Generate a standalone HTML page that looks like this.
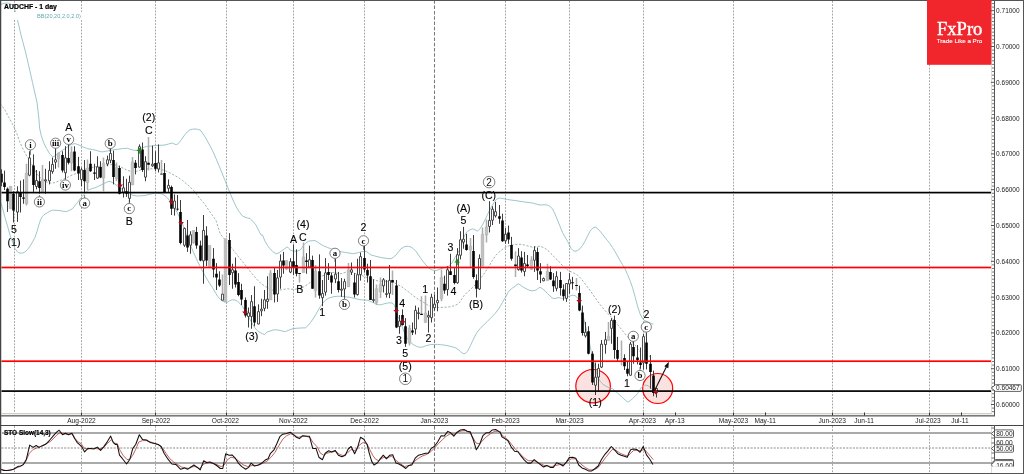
<!DOCTYPE html>
<html lang="en"><head><meta charset="utf-8"><title>AUDCHF - 1 day</title>
<style>
html,body{margin:0;padding:0;background:#fff;}
body{width:1024px;height:474px;overflow:hidden;font-family:"Liberation Sans",sans-serif;}
svg{display:block;}
text{font-family:"Liberation Sans",sans-serif;}
.grid{stroke:#a4a4a4;stroke-width:1;stroke-dasharray:1.8 1.37;}
.gridy{stroke:#7a7a7a;stroke-width:1.05;stroke-dasharray:3.5 1.8;}
.band{fill:none;stroke:#86b8bc;stroke-width:0.8;stroke-linejoin:round;}
.mid{fill:none;stroke:#6f9092;stroke-width:0.7;stroke-dasharray:2.2 1.6;}
.yl2{font-size:6.6px;fill:#1a1a1a;}
.wc{font-size:10px;fill:#111;}
.xl{font-size:6.6px;fill:#1a1a1a;}
.yl{font-size:6.5px;fill:#222;}
.title{font-size:6.9px;font-weight:bold;fill:#000;stroke:#000;stroke-width:0.2px;}
.bb{font-size:5.6px;fill:#6aa9ae;}
.logo{font-family:"Liberation Serif",serif;font-size:18.6px;fill:#fff;stroke:#fff;stroke-width:0.4px;}
.tag{font-size:6.2px;fill:#fff;stroke:#fff;stroke-width:0.12px;}
.wl{font-size:10.6px;fill:#000;stroke:#000;stroke-width:0.1px;}
.ws{font-family:"Liberation Serif",serif;font-size:8.8px;font-weight:bold;fill:#000;}
.sto{font-size:6.45px;font-weight:bold;fill:#000;stroke:#000;stroke-width:0.2px;}
</style></head>
<body>
<svg width="1024" height="474" viewBox="0 0 1024 474">
<rect x="0" y="0" width="1024" height="474" fill="#fff"/>
<line x1="14.5" y1="1" x2="14.5" y2="413" class="grid"/>
<line x1="14.5" y1="426" x2="14.5" y2="473" class="grid"/>
<line x1="81.5" y1="1" x2="81.5" y2="413" class="grid"/>
<line x1="81.5" y1="426" x2="81.5" y2="473" class="grid"/>
<line x1="155.5" y1="1" x2="155.5" y2="413" class="grid"/>
<line x1="155.5" y1="426" x2="155.5" y2="473" class="grid"/>
<line x1="226.5" y1="1" x2="226.5" y2="413" class="grid"/>
<line x1="226.5" y1="426" x2="226.5" y2="473" class="grid"/>
<line x1="293.5" y1="1" x2="293.5" y2="413" class="grid"/>
<line x1="293.5" y1="426" x2="293.5" y2="473" class="grid"/>
<line x1="364.5" y1="1" x2="364.5" y2="413" class="grid"/>
<line x1="364.5" y1="426" x2="364.5" y2="473" class="grid"/>
<line x1="434.5" y1="0.3" x2="434.5" y2="413" class="gridy"/>
<line x1="434.5" y1="426" x2="434.5" y2="473" class="gridy"/>
<line x1="505.5" y1="1" x2="505.5" y2="413" class="grid"/>
<line x1="505.5" y1="426" x2="505.5" y2="473" class="grid"/>
<line x1="569.5" y1="1" x2="569.5" y2="413" class="grid"/>
<line x1="569.5" y1="426" x2="569.5" y2="473" class="grid"/>
<line x1="643.5" y1="1" x2="643.5" y2="413" class="grid"/>
<line x1="643.5" y1="426" x2="643.5" y2="473" class="grid"/>
<line x1="733.5" y1="1" x2="733.5" y2="413" class="grid"/>
<line x1="733.5" y1="426" x2="733.5" y2="473" class="grid"/>
<line x1="832.5" y1="1" x2="832.5" y2="413" class="grid"/>
<line x1="832.5" y1="426" x2="832.5" y2="473" class="grid"/>
<line x1="929.5" y1="1" x2="929.5" y2="413" class="grid"/>
<line x1="929.5" y1="426" x2="929.5" y2="473" class="grid"/>
<ellipse cx="593.1" cy="386.2" rx="17.3" ry="16.7" fill="#fce1e1" stroke="#f00" stroke-width="1.2"/>
<circle cx="657.7" cy="388.5" r="15" fill="#fce1e1" stroke="#f00" stroke-width="1.2"/>
<polyline points="0.0,4.5 4.0,3.3 8.0,3.0 12.0,4.8 14.0,7.5 15.5,12.0 17.5,20.0 21.0,35.0 25.0,50.0 29.0,67.0 32.5,82.5 37.0,102.5 38.8,117.5 39.6,128.0 41.2,135.5 43.8,143.0 46.5,148.5 49.5,153.5 52.5,156.8 55.0,156.0 58.8,153.0 62.0,150.5 65.0,148.8 67.5,146.8 71.2,144.4 75.0,143.6 78.0,144.6 82.5,146.7 87.5,148.7 92.5,149.5 96.0,150.2 100.0,151.6 102.5,151.8 106.2,151.2 112.5,150.0 117.0,149.4 122.5,148.5 127.5,148.3 130.0,149.2 134.0,150.3 137.5,150.5 141.0,148.6 145.0,146.8 150.0,146.2 155.0,145.5 160.0,145.3 165.0,145.0 168.5,144.0 172.5,143.0 175.0,144.4 177.5,144.3 180.0,141.5 182.5,138.0 185.0,134.5 187.5,131.7 190.0,129.8 192.5,129.2 196.0,129.0 198.5,129.6 200.0,129.8 202.5,133.0 205.0,136.8 208.5,143.0 212.5,150.5 216.0,158.5 220.0,168.0 225.0,180.5 230.0,193.0 233.0,200.0 236.2,206.8 239.0,211.5 242.5,216.0 245.0,217.2 247.5,218.0 250.0,218.5 252.5,221.0 256.0,225.0 258.5,230.0 261.0,235.0 262.5,235.0 265.0,241.2 267.5,245.5 270.0,248.8 273.0,251.8 276.2,253.8 279.0,252.8 281.2,251.2 284.5,248.8 287.5,246.9 289.0,248.6 290.0,250.0 292.5,250.8 295.0,251.2 297.5,251.0 300.0,250.0 302.0,247.8 303.8,245.0 306.0,242.8 308.8,241.2 312.0,240.7 315.0,240.6 317.5,242.0 320.0,243.8 323.5,245.8 327.5,247.5 331.0,248.8 335.0,250.0 338.5,251.2 342.0,252.0 346.0,252.5 350.0,253.2 353.5,253.7 356.0,253.2 358.5,252.5 362.0,251.6 366.0,251.3 368.5,253.0 371.0,255.0 376.0,256.3 381.0,257.5 386.0,258.3 391.0,258.7 393.5,257.2 396.0,255.0 398.5,251.8 401.0,248.8 403.5,247.2 406.0,246.3 408.5,246.4 411.0,247.0 413.5,248.8 416.0,251.3 418.5,255.0 421.0,258.7 423.5,262.0 426.0,265.0 428.5,267.5 431.0,269.5 433.5,270.3 436.0,270.5 438.5,269.8 441.0,268.7 444.5,267.5 448.5,266.2 452.0,263.0 455.0,257.5 457.5,253.5 460.0,249.0 462.0,243.0 463.8,237.5 465.5,233.8 467.5,231.3 470.0,229.8 472.5,228.8 475.0,229.8 477.5,231.2 480.0,228.7 482.5,225.0 485.0,220.0 487.5,214.5 490.0,209.5 492.5,205.0 494.5,201.8 496.2,199.5 498.0,198.4 500.0,198.0 503.0,198.6 507.5,199.5 511.0,200.0 515.0,200.5 520.0,201.3 525.0,202.0 529.0,202.6 532.5,203.0 536.0,204.0 540.0,205.0 544.0,204.8 547.5,205.0 550.0,206.5 552.5,208.8 555.0,214.0 557.5,220.0 560.0,226.3 562.5,232.5 565.0,237.0 567.5,241.2 569.5,245.0 571.2,248.7 573.0,250.5 575.0,251.3 577.5,250.6 580.0,248.7 582.5,245.5 585.0,241.2 587.5,236.2 590.0,231.2 592.0,228.8 593.8,227.5 595.0,227.2 596.2,227.5 598.0,229.0 600.0,231.2 602.5,234.2 605.0,237.5 607.5,240.6 610.0,243.7 612.5,247.5 615.0,251.5 617.5,256.0 620.0,260.5 622.5,264.7 625.0,268.8 627.5,274.5 630.0,280.5 632.5,287.5 635.0,296.5 637.5,306.0 640.0,313.7 642.0,317.8 644.0,320.3 647.5,321.8 651.2,323.5 653.5,324.2" class="band"/>
<polyline points="0.0,200.5 2.5,208.0 5.0,217.5 7.5,226.0 10.0,235.0 12.5,242.0 15.0,248.5 17.5,251.8 20.0,253.2 22.5,253.0 25.0,252.0 27.5,249.5 30.0,246.2 32.5,242.0 35.0,237.5 37.0,231.5 38.8,225.0 40.5,220.0 42.5,216.2 45.0,214.0 47.5,212.6 50.0,211.2 52.5,210.2 56.0,210.3 60.0,210.7 63.0,211.2 66.2,211.6 69.5,210.3 72.5,208.7 75.0,205.5 77.5,202.5 80.0,199.0 82.5,196.0 85.0,193.3 87.5,190.8 90.0,189.3 95.0,187.8 100.0,185.5 103.5,183.7 107.5,181.8 110.0,181.4 112.5,182.5 115.0,184.2 118.5,186.8 122.5,189.3 126.0,191.8 130.0,194.2 134.0,195.5 137.5,196.0 141.0,195.8 145.0,195.5 150.0,194.2 155.0,193.0 159.0,193.3 162.5,194.2 165.0,195.8 167.5,198.0 170.0,201.0 172.5,205.0 175.0,208.8 177.5,213.0 180.0,218.5 182.5,224.0 185.0,231.0 187.5,237.5 190.0,244.0 192.5,250.0 195.0,255.8 197.5,261.2 200.0,266.3 202.5,271.2 205.0,275.5 207.5,280.0 210.0,283.8 212.5,287.5 215.0,292.0 217.5,296.2 220.0,299.0 222.5,301.2 225.0,302.0 227.5,302.3 230.0,300.5 232.5,299.8 235.0,300.0 237.5,301.3 240.0,303.5 242.5,306.5 245.0,310.5 247.5,315.0 250.0,319.5 252.5,324.0 255.0,328.0 257.5,330.8 260.0,332.5 262.5,333.8 264.5,334.4 267.0,332.0 270.0,331.0 273.8,329.8 278.0,330.0 282.0,331.0 285.5,331.6 289.0,330.0 293.0,328.7 297.0,328.2 301.0,328.0 305.5,327.8 308.0,325.5 310.5,322.5 313.0,319.0 315.5,315.0 318.0,310.5 320.5,306.3 323.0,303.0 325.5,300.0 329.0,298.0 333.0,296.8 337.0,296.3 341.0,296.2 345.0,296.8 350.0,297.3 355.0,298.5 359.0,299.5 363.0,300.0 367.5,300.3 370.0,301.2 373.0,302.5 377.5,304.6 380.5,304.8 383.5,304.0 387.5,303.0 391.0,302.8 393.0,303.5 394.5,305.5 396.2,311.0 398.0,316.5 400.0,321.3 402.0,326.5 403.8,331.2 405.5,335.0 407.5,338.7 409.5,341.2 411.2,343.0 414.0,345.0 416.2,346.2 418.5,347.0 421.2,347.4 424.0,346.5 426.2,345.6 429.0,345.0 431.2,344.5 434.0,344.4 437.5,344.4 440.5,344.7 443.8,345.0 447.0,345.6 450.0,346.3 452.5,346.9 455.0,347.6 457.0,348.7 458.8,350.0 460.5,351.7 462.5,353.2 464.0,353.8 465.5,353.3 467.5,351.2 469.0,348.5 470.5,345.5 472.5,341.2 474.5,337.0 476.2,333.7 478.0,331.0 480.0,328.7 482.5,326.0 485.0,323.7 487.5,321.3 490.0,318.7 492.5,316.2 495.0,313.7 497.0,311.0 498.8,308.7 500.5,305.8 502.5,302.5 504.5,298.8 506.2,296.2 508.0,292.5 510.0,290.0 512.5,288.0 515.0,286.3 517.0,284.6 518.8,283.8 521.0,285.5 523.8,287.5 527.0,289.2 530.0,290.5 533.0,290.8 536.2,290.0 538.5,288.2 540.0,287.3 542.5,288.8 545.0,290.8 547.5,293.5 550.0,296.0 552.0,297.8 553.8,298.6 556.0,298.2 558.8,297.6 561.5,298.3 563.8,298.2 566.2,297.8 568.5,296.5 571.2,295.6 573.0,295.2 575.0,295.6 576.5,296.8 578.0,298.7 579.0,301.5 580.0,305.0 581.0,308.7 581.9,312.5 582.8,315.5 583.8,318.7 584.7,322.5 585.6,326.2 586.5,330.0 587.5,333.7 588.5,338.0 589.4,342.5 590.3,347.0 591.2,351.5 591.9,355.0 592.8,358.7 593.8,362.5 594.7,366.3 595.6,370.0 596.8,373.8 598.0,377.5 599.5,380.3 601.2,382.5 603.0,384.3 605.0,385.6 607.0,386.7 608.8,387.5 610.5,388.2 612.5,388.8 615.0,390.8 617.5,393.0 620.0,395.3 622.5,397.5 625.0,399.8 627.5,401.9 629.0,401.6 630.5,400.5 632.5,398.7 635.0,396.3 637.5,393.7 639.5,390.5 641.2,387.5 643.0,385.8 645.0,385.0 647.0,385.4 648.8,386.2 650.5,387.8 651.5,389.0" class="band"/>
<polyline points="0.0,103.7 2.5,106.5 5.0,110.0 7.0,114.0 8.8,117.5 10.0,119.5 12.5,124.0 15.0,129.0 17.5,135.5 20.0,142.5 22.5,148.0 25.0,153.0 27.0,156.5 28.8,158.5 31.0,162.5 34.0,168.5 37.5,174.5 40.5,178.0 43.8,180.6 47.5,182.3 51.2,183.2 55.0,182.6 60.0,180.5 65.0,178.5 70.0,176.0 74.0,174.3 77.5,173.0 81.0,171.3 85.0,169.3 90.0,168.0 95.0,166.8 100.0,166.3 105.0,165.6 109.0,164.8 112.5,164.5 116.0,165.3 120.0,166.8 124.0,168.6 127.5,170.5 131.0,171.3 135.0,171.7 139.0,170.5 142.5,169.3 146.0,169.0 150.0,168.7 155.0,169.0 160.0,169.3 164.0,170.3 167.5,171.7 171.0,173.5 175.0,175.6 179.0,178.0 182.5,180.5 186.0,183.5 190.0,186.8 194.0,191.0 197.5,195.4 201.0,199.8 205.0,204.5 208.5,209.8 212.5,215.5 216.0,220.5 220.0,233.0 221.2,235.0 226.0,241.0 231.2,247.5 236.0,253.5 241.2,260.0 246.0,266.0 250.0,271.2 254.0,276.0 257.5,280.0 261.0,283.5 265.0,286.2 269.0,288.5 272.5,290.0 276.0,290.2 280.0,290.0 284.0,289.3 287.5,288.8 291.0,289.2 295.0,289.4 299.0,288.5 303.8,286.9 307.0,284.8 310.0,282.5 314.0,280.0 317.5,278.0 321.0,276.3 325.0,275.0 330.0,272.4 333.5,272.5 337.0,273.2 341.0,273.7 345.0,272.5 348.5,271.4 352.0,272.3 356.0,273.7 360.0,275.0 363.5,276.2 367.0,277.5 371.0,278.7 375.0,280.0 378.5,281.2 382.0,281.3 386.0,281.3 390.0,281.8 393.5,282.5 397.0,284.2 401.0,286.3 403.5,288.0 406.0,290.0 408.5,291.8 411.0,293.8 413.5,296.0 416.0,297.6 418.5,299.5 421.0,301.0 424.0,302.5 427.5,305.0 431.0,306.5 434.0,307.4 437.0,307.6 440.0,307.5 443.5,307.2 446.2,307.2 449.5,306.8 452.5,306.2 455.0,305.4 457.5,304.2 459.5,302.5 461.2,300.0 463.0,297.0 465.0,294.5 467.5,292.0 470.0,290.0 473.5,286.5 477.5,282.5 481.0,277.8 485.0,272.5 488.5,267.0 492.5,260.2 496.0,255.2 500.0,251.2 503.5,248.5 507.5,246.3 511.0,245.2 515.0,244.5 518.5,244.2 522.5,244.5 526.2,245.6 530.0,246.5 532.5,247.3 536.0,246.8 538.8,246.3 541.0,246.6 543.8,247.6 546.0,249.0 548.8,251.3 551.0,253.6 553.8,256.3 556.0,258.8 558.8,261.3 561.0,264.0 563.8,266.8 566.0,268.8 568.8,270.6 571.0,271.8 573.8,273.0 575.5,274.0 577.5,275.2 579.5,277.0 581.2,278.8 583.0,281.2 585.0,283.8 587.0,286.5 588.8,288.8 590.0,290.3 592.5,294.0 595.0,297.5 597.5,301.0 600.0,304.4 602.5,307.5 605.0,310.6 607.5,313.2 610.0,315.6 612.5,318.5 615.0,321.3 617.5,324.5 620.0,327.5 622.5,330.7 625.0,333.8 627.5,336.6 630.0,339.4 632.5,342.3 635.0,345.0 637.0,347.6 638.8,350.0 640.5,352.0 642.5,353.8 644.5,354.8 646.2,355.6 648.0,356.0 650.0,356.3 652.5,358.0" class="mid"/>
<path d="M10.5 186.25V208.75M26.5 163.75V205.62M42.5 165.00V192.50M58.5 152.50V167.50M71.5 146.25V171.25M87.5 159.38V190.00M103.5 157.50V191.25M116.5 162.50V181.25M132.5 156.88V185.00M148.5 136.88V170.62M161.5 160.00V174.57M193.5 230.62V243.75M209.5 245.62V266.88M222.5 274.38V300.62M225.5 238.75V301.88M270.5 270.00V300.00M286.5 260.62V270.00M299.5 273.11V282.50M303.5 242.50V272.50M315.5 265.00V297.50M348.5 263.12V286.88M376.5 284.38V305.00M380.5 277.50V298.12M392.5 270.62V295.00M409.5 325.00V345.62M421.5 296.25V315.00M425.5 295.62V322.50M441.5 269.38V301.25M470.5 238.12V266.88M482.5 227.50V266.25M486.5 219.38V242.50M515.5 251.25V276.88M531.5 256.25V270.00M547.5 263.75V280.62M576.5 278.12V290.62M608.5 321.88V340.62M621.5 340.62V365.62" stroke="#adadad" stroke-width="1.5" fill="none"/>
<path d="M9.10 186.25h2.8V208.75h-2.8zM25.10 173.12h2.8V203.75h-2.8zM41.10 179.38h2.8V192.50h-2.8zM57.10 153.12h2.8V158.75h-2.8zM70.10 152.50h2.8V163.12h-2.8zM86.10 168.12h2.8V182.50h-2.8zM102.10 163.50h2.8V178.12h-2.8zM115.10 167.50h2.8V178.75h-2.8zM131.10 161.88h2.8V185.00h-2.8zM192.10 230.62h2.8V242.50h-2.8zM208.10 245.62h2.8V266.88h-2.8zM224.10 238.75h2.8V301.88h-2.8zM269.10 273.12h2.8V300.00h-2.8zM285.10 260.62h2.8V268.75h-2.8zM302.10 256.88h2.8V272.50h-2.8zM314.10 271.25h2.8V290.62h-2.8zM347.10 270.00h2.8V286.88h-2.8zM375.10 288.75h2.8V302.50h-2.8zM379.10 284.38h2.8V291.88h-2.8zM408.10 328.12h2.8V343.12h-2.8zM424.10 313.12h2.8V322.50h-2.8zM440.10 277.50h2.8V298.75h-2.8zM469.10 246.25h2.8V250.00h-2.8zM481.10 234.38h2.8V266.25h-2.8zM485.10 226.88h2.8V235.00h-2.8zM530.10 260.00h2.8V269.38h-2.8zM546.10 271.25h2.8V280.62h-2.8zM607.10 336.25h2.8V340.62h-2.8z" fill="#c0c0c0" stroke="#ababab" stroke-width="0.4"/>
<path d="M1.5 169.38V186.25M4.5 170.62V190.00M7.5 187.50V211.88M13.5 191.25V222.50M17.5 186.25V221.88M20.5 180.62V212.50M23.5 179.38V203.75M29.5 151.25V176.25M33.5 154.38V191.88M36.5 170.00V189.38M39.5 171.25V193.75M45.5 168.75V193.75M49.5 161.25V184.38M52.5 157.50V173.75M55.5 148.75V168.75M62.5 151.25V172.50M65.5 146.25V178.75M68.5 145.00V164.38M74.5 146.25V171.25M78.5 156.88V180.00M81.5 167.50V186.25M84.5 160.00V192.50M90.5 151.25V171.88M94.5 163.75V180.00M97.5 156.25V178.75M100.5 161.25V178.12M107.5 155.62V166.25M110.5 148.75V163.12M113.5 150.62V184.38M119.5 165.62V194.38M123.5 176.25V197.50M126.5 178.75V196.88M129.5 175.62V202.50M135.5 160.00V174.38M139.5 144.38V167.50M142.5 142.50V171.88M145.5 156.25V181.25M152.5 145.62V166.88M155.5 151.25V171.25M158.5 144.38V172.50M164.5 163.12V191.88M168.5 179.38V191.88M171.5 185.62V215.00M174.5 194.38V215.62M177.5 195.00V210.62M180.5 200.00V244.38M184.5 227.50V246.88M187.5 220.00V251.88M190.5 231.25V253.75M196.5 226.88V248.75M200.5 240.62V261.25M203.5 215.00V283.75M206.5 226.25V266.25M213.5 248.12V277.50M216.5 263.12V290.00M219.5 271.25V286.88M229.5 233.12V285.00M232.5 263.75V288.75M235.5 257.50V287.50M238.5 273.12V296.25M241.5 283.75V305.00M245.5 297.50V317.50M248.5 307.50V327.50M251.5 295.00V328.75M254.5 286.25V326.25M258.5 304.38V324.38M261.5 298.75V316.25M264.5 290.00V311.25M267.5 276.25V308.75M274.5 268.12V302.50M277.5 270.00V301.88M280.5 254.38V288.75M283.5 251.88V273.75M290.5 258.12V273.12M293.5 244.38V275.00M296.5 249.38V276.25M306.5 253.12V273.75M309.5 245.62V267.50M312.5 255.62V288.75M319.5 254.38V298.75M322.5 280.00V306.25M325.5 258.12V295.62M328.5 263.12V280.00M331.5 272.50V293.75M335.5 258.75V283.12M338.5 271.88V292.50M341.5 278.12V296.88M344.5 278.75V297.50M351.5 262.50V275.00M354.5 273.12V297.50M357.5 258.75V295.62M360.5 252.50V280.62M364.5 245.62V272.50M367.5 263.75V282.50M370.5 260.00V300.00M373.5 279.38V302.50M383.5 278.12V292.50M386.5 280.00V297.50M389.5 265.00V298.12M396.5 280.00V328.12M399.5 315.00V333.75M402.5 309.38V325.62M405.5 318.12V346.88M412.5 322.50V335.00M415.5 305.62V334.38M418.5 307.50V319.38M428.5 310.62V332.50M431.5 293.75V322.50M434.5 295.00V310.62M437.5 287.50V311.25M444.5 275.62V293.75M447.5 266.25V295.62M450.5 253.75V275.00M454.5 268.12V284.38M457.5 248.12V283.75M460.5 231.25V259.38M463.5 226.88V248.75M466.5 233.75V250.62M473.5 235.00V278.75M476.5 274.38V297.50M479.5 254.38V290.00M489.5 201.25V232.50M492.5 206.25V225.00M495.5 201.88V217.50M499.5 205.00V223.75M502.5 213.75V241.88M505.5 228.12V243.75M508.5 225.62V243.75M511.5 236.88V260.62M518.5 248.12V270.62M521.5 251.25V272.50M524.5 251.88V276.25M527.5 255.00V266.88M534.5 246.25V271.88M537.5 247.50V280.00M540.5 263.12V283.12M543.5 277.50V281.25M550.5 266.25V280.00M553.5 273.12V291.88M556.5 271.25V291.25M560.5 271.88V295.62M563.5 284.38V300.62M566.5 283.12V301.88M569.5 273.12V293.75M572.5 276.88V289.38M579.5 285.62V311.25M582.5 305.62V335.62M585.5 321.88V337.50M588.5 326.25V354.38M592.5 351.25V385.00M595.5 362.50V395.00M598.5 363.75V391.25M601.5 340.00V368.12M605.5 331.88V353.75M611.5 318.12V343.75M614.5 315.62V358.75M617.5 336.88V361.25M624.5 354.38V370.00M627.5 361.25V376.25M630.5 341.88V375.62M633.5 341.25V363.75M637.5 345.00V364.38M640.5 347.50V368.75M643.5 333.75V369.38M646.5 333.12V369.38M650.5 355.00V388.75M653.5 370.62V396.25M656.5 387.50V397.50" stroke="#3c3c3c" stroke-width="1" fill="none"/>
<path d="M0.20 173.75h2.6V182.50h-2.6zM3.20 182.50h2.6V186.88h-2.6zM6.20 188.75h2.6V201.25h-2.6zM12.20 193.75h2.6V210.62h-2.6zM19.20 193.12h2.6V196.88h-2.6zM22.20 197.50h2.6V198.75h-2.6zM32.20 165.62h2.6V185.00h-2.6zM38.20 181.25h2.6V188.12h-2.6zM61.20 155.00h2.6V170.62h-2.6zM67.20 158.12h2.6V162.75h-2.6zM73.20 151.50h2.6V170.62h-2.6zM77.20 166.25h2.6V173.50h-2.6zM83.20 170.00h2.6V181.25h-2.6zM89.20 163.75h2.6V171.25h-2.6zM93.20 172.50h2.6V173.75h-2.6zM99.20 167.12h2.6V177.50h-2.6zM112.20 160.00h2.6V176.88h-2.6zM118.20 168.12h2.6V193.75h-2.6zM125.20 191.25h2.6V193.75h-2.6zM134.20 162.75h2.6V168.12h-2.6zM141.20 149.38h2.6V170.00h-2.6zM147.20 162.75h2.6V164.75h-2.6zM154.20 163.12h2.6V168.75h-2.6zM160.20 173.68h2.6V174.57h-2.6zM163.20 173.12h2.6V191.88h-2.6zM170.20 186.88h2.6V208.75h-2.6zM176.20 208.68h2.6V209.57h-2.6zM179.20 211.88h2.6V243.12h-2.6zM186.20 235.62h2.6V247.50h-2.6zM195.20 231.88h2.6V245.62h-2.6zM199.20 245.62h2.6V260.62h-2.6zM205.20 235.62h2.6V260.62h-2.6zM212.20 258.75h2.6V269.38h-2.6zM215.20 273.75h2.6V277.50h-2.6zM218.20 279.38h2.6V285.62h-2.6zM228.20 240.00h2.6V275.00h-2.6zM234.20 270.62h2.6V284.38h-2.6zM237.20 281.88h2.6V295.00h-2.6zM240.20 290.00h2.6V299.38h-2.6zM244.20 300.00h2.6V315.62h-2.6zM253.20 306.25h2.6V322.50h-2.6zM273.20 273.12h2.6V294.38h-2.6zM282.20 260.38h2.6V265.62h-2.6zM292.20 261.25h2.6V266.88h-2.6zM295.20 265.00h2.6V273.75h-2.6zM298.20 273.11h2.6V274.01h-2.6zM305.20 260.62h2.6V261.88h-2.6zM311.20 260.00h2.6V288.75h-2.6zM318.20 271.25h2.6V295.62h-2.6zM327.20 271.88h2.6V275.00h-2.6zM330.20 275.62h2.6V282.50h-2.6zM337.20 281.25h2.6V290.00h-2.6zM353.20 282.50h2.6V294.38h-2.6zM363.20 258.12h2.6V269.38h-2.6zM366.20 270.00h2.6V275.62h-2.6zM369.20 276.25h2.6V300.00h-2.6zM391.20 280.00h2.6V282.50h-2.6zM395.20 285.62h2.6V327.50h-2.6zM401.20 315.00h2.6V325.00h-2.6zM404.20 326.25h2.6V343.75h-2.6zM411.20 330.62h2.6V332.50h-2.6zM420.20 313.75h2.6V315.00h-2.6zM443.20 283.75h2.6V290.62h-2.6zM449.20 271.25h2.6V275.00h-2.6zM453.20 275.00h2.6V283.12h-2.6zM465.20 244.38h2.6V250.00h-2.6zM472.20 251.00h2.6V276.88h-2.6zM475.20 280.25h2.6V288.75h-2.6zM498.20 216.25h2.6V218.75h-2.6zM501.20 220.62h2.6V241.25h-2.6zM507.20 232.50h2.6V239.38h-2.6zM510.20 245.00h2.6V258.75h-2.6zM514.20 264.38h2.6V266.25h-2.6zM520.20 257.50h2.6V270.62h-2.6zM526.20 264.38h2.6V266.25h-2.6zM536.20 251.88h2.6V270.62h-2.6zM539.20 271.25h2.6V274.38h-2.6zM549.20 271.88h2.6V279.38h-2.6zM552.20 280.62h2.6V286.25h-2.6zM559.20 280.00h2.6V288.12h-2.6zM562.20 289.38h2.6V296.25h-2.6zM571.20 282.36h2.6V283.26h-2.6zM575.20 285.00h2.6V286.00h-2.6zM578.20 293.12h2.6V310.62h-2.6zM581.20 312.50h2.6V333.12h-2.6zM587.20 331.25h2.6V353.75h-2.6zM591.20 353.75h2.6V382.50h-2.6zM613.20 320.00h2.6V350.00h-2.6zM616.20 350.00h2.6V358.75h-2.6zM623.20 358.12h2.6V366.25h-2.6zM626.20 368.75h2.6V373.75h-2.6zM632.20 346.88h2.6V356.25h-2.6zM636.20 357.50h2.6V360.00h-2.6zM639.20 362.50h2.6V365.00h-2.6zM645.20 342.50h2.6V363.75h-2.6zM649.20 363.75h2.6V371.88h-2.6zM652.20 375.62h2.6V393.12h-2.6z" fill="#000"/>
<path d="M16.50 191.65h2V212.10h-2zM28.50 157.90h2V175.22h-2zM35.50 180.40h2V186.47h-2zM44.50 179.78h2V180.85h-2zM48.50 170.40h2V180.85h-2zM51.50 164.40h2V171.47h-2zM54.50 159.78h2V162.10h-2zM64.50 157.90h2V172.72h-2zM80.50 169.78h2V179.60h-2zM96.50 166.90h2V178.10h-2zM106.50 159.78h2V163.97h-2zM109.50 153.53h2V160.22h-2zM122.50 187.90h2V192.10h-2zM128.50 182.28h2V198.35h-2zM138.50 146.65h2V167.10h-2zM144.50 161.65h2V177.10h-2zM151.50 164.15h2V165.85h-2zM157.50 162.90h2V168.97h-2zM167.50 185.40h2V188.35h-2zM173.50 201.03h2V208.35h-2zM183.50 228.53h2V245.22h-2zM189.50 234.78h2V245.22h-2zM202.50 230.40h2V260.85h-2zM221.50 294.15h2V300.23h-2zM231.50 269.77h2V272.73h-2zM247.50 312.90h2V316.48h-2zM250.50 301.65h2V316.48h-2zM257.50 311.65h2V323.98h-2zM260.50 309.15h2V310.85h-2zM263.50 299.77h2V308.35h-2zM266.50 299.15h2V301.48h-2zM276.50 277.90h2V293.98h-2zM279.50 261.02h2V277.10h-2zM289.50 261.65h2V272.10h-2zM308.50 259.77h2V267.10h-2zM321.50 293.52h2V297.73h-2zM324.50 272.90h2V292.10h-2zM334.50 274.15h2V278.98h-2zM340.50 289.15h2V290.23h-2zM343.50 281.65h2V288.98h-2zM350.50 269.77h2V272.10h-2zM356.50 274.77h2V294.60h-2zM359.50 256.65h2V274.60h-2zM372.50 299.60h2V300.40h-2zM382.50 279.77h2V285.85h-2zM385.50 293.66h2V294.46h-2zM388.50 280.40h2V293.35h-2zM398.50 321.02h2V326.48h-2zM414.50 310.40h2V328.98h-2zM417.50 312.72h2V313.53h-2zM427.50 315.40h2V317.10h-2zM430.50 297.27h2V317.73h-2zM433.50 304.15h2V307.73h-2zM436.50 300.40h2V302.73h-2zM446.50 269.77h2V289.60h-2zM456.50 254.78h2V282.73h-2zM459.50 239.78h2V255.22h-2zM462.50 239.15h2V242.10h-2zM478.50 258.52h2V288.98h-2zM488.50 220.40h2V226.47h-2zM491.50 209.15h2V220.22h-2zM494.50 211.65h2V215.85h-2zM504.50 234.15h2V240.85h-2zM517.50 256.02h2V269.60h-2zM523.50 263.52h2V271.48h-2zM533.50 250.40h2V260.23h-2zM542.50 278.52h2V280.85h-2zM555.50 276.65h2V288.35h-2zM565.50 283.52h2V298.35h-2zM568.50 279.77h2V283.98h-2zM584.50 332.27h2V335.85h-2zM594.50 377.27h2V385.23h-2zM597.50 368.52h2V377.10h-2zM600.50 344.15h2V367.10h-2zM604.50 339.77h2V344.60h-2zM610.50 320.40h2V328.35h-2zM629.50 344.15h2V375.23h-2zM642.50 336.65h2V362.73h-2zM655.50 388.52h2V392.73h-2z" fill="#fff" stroke="#333" stroke-width="0.85"/>
<rect x="1.5" y="191.75" width="990" height="1.7" fill="#000"/>
<rect x="1.5" y="390.25" width="990" height="1.7" fill="#000"/>
<rect x="1.5" y="266.65" width="990" height="1.7" fill="#f00"/>
<rect x="1.5" y="360.35" width="990" height="1.7" fill="#f00"/>
<path d="M120.2 188.0L123.0 184.6H120.8V181.8H119.6V184.6H117.4Z" fill="#a30d1a"/>
<path d="M171.4 204.6L174.2 201.2H172.0V198.4H170.8V201.2H168.6Z" fill="#a30d1a"/>
<path d="M181.1 225.4L183.9 222.0H181.7V219.2H180.5V222.0H178.3Z" fill="#a30d1a"/>
<path d="M245 315.0L247.8 311.6H245.6V308.8H244.4V311.6H242.2Z" fill="#a30d1a"/>
<path d="M396.2 313.3L399.0 309.9H396.8V307.1H395.6V309.9H393.4Z" fill="#a30d1a"/>
<path d="M402.7 324.6L405.5 321.2H403.3V318.4H402.1V321.2H399.9Z" fill="#a30d1a"/>
<path d="M579.2 303.3L582.0 299.9H579.8V297.1H578.6V299.9H576.4Z" fill="#a30d1a"/>
<path d="M655.6 394.5L658.4 391.1H656.2V388.3H655.0V391.1H652.8Z" fill="#a30d1a"/>
<path d="M139.3 147.4L142.1 151.0H139.9V153.8H138.7V151.0H136.5Z" fill="#1d8a1d"/>
<path d="M457.2 258.8L460.0 262.4H457.8V265.2H456.6V262.4H454.4Z" fill="#1d8a1d"/>
<path d="M654.6 390.6L667.2 365.2" stroke="#111" stroke-width="1.1" fill="none"/>
<path d="M668.9 361.8L668.3 368.2L664.3 366.2Z" fill="#111"/>
<text x="14" y="232.8" text-anchor="middle" class="wl">5</text>
<text x="14" y="245.8" text-anchor="middle" class="wl">(1)</text>
<text x="68.8" y="131.3" text-anchor="middle" class="wl">A</text>
<text x="129.4" y="224.8" text-anchor="middle" class="wl">B</text>
<text x="148.8" y="133.8" text-anchor="middle" class="wl">C</text>
<text x="148.8" y="121.2" text-anchor="middle" class="wl">(2)</text>
<text x="251.8" y="340.1" text-anchor="middle" class="wl">(3)</text>
<text x="303" y="228.1" text-anchor="middle" class="wl">(4)</text>
<text x="293.5" y="242.6" text-anchor="middle" class="wl">A</text>
<text x="302.8" y="240.6" text-anchor="middle" class="wl">C</text>
<text x="299.8" y="292.6" text-anchor="middle" class="wl">B</text>
<text x="363.5" y="231.3" text-anchor="middle" class="wl">2</text>
<text x="322.3" y="316.3" text-anchor="middle" class="wl">1</text>
<text x="402.3" y="307.3" text-anchor="middle" class="wl">4</text>
<text x="399" y="343.8" text-anchor="middle" class="wl">3</text>
<text x="405.3" y="356.8" text-anchor="middle" class="wl">5</text>
<text x="405.3" y="370.1" text-anchor="middle" class="wl">(5)</text>
<text x="428.5" y="342.1" text-anchor="middle" class="wl">2</text>
<text x="425.3" y="292.6" text-anchor="middle" class="wl">1</text>
<text x="450.5" y="250.8" text-anchor="middle" class="wl">3</text>
<text x="453.5" y="295.1" text-anchor="middle" class="wl">4</text>
<text x="463.5" y="211.8" text-anchor="middle" class="wl">(A)</text>
<text x="463.5" y="224.3" text-anchor="middle" class="wl">5</text>
<text x="476" y="307.6" text-anchor="middle" class="wl">(B)</text>
<text x="488.8" y="198.8" text-anchor="middle" class="wl">(C)</text>
<text x="595.3" y="405.8" text-anchor="middle" class="wl">(1)</text>
<text x="614.5" y="313.3" text-anchor="middle" class="wl">(2)</text>
<text x="646.5" y="318.3" text-anchor="middle" class="wl">2</text>
<text x="627" y="386.8" text-anchor="middle" class="wl">1</text>
<path d="M30.4 144.8V155" stroke="#444" stroke-width="0.7"/>
<circle cx="30.4" cy="144.8" r="5.1" fill="#fff" stroke="#4a4a4a" stroke-width="0.7"/>
<text x="30.4" y="147.5" text-anchor="middle" class="ws">i</text>
<path d="M39.4 201.9V195" stroke="#444" stroke-width="0.7"/>
<circle cx="39.4" cy="201.9" r="5.1" fill="#fff" stroke="#4a4a4a" stroke-width="0.7"/>
<text x="39.4" y="204.6" text-anchor="middle" class="ws">ii</text>
<path d="M55.6 143.2V152" stroke="#444" stroke-width="0.7"/>
<circle cx="55.6" cy="143.2" r="5.1" fill="#fff" stroke="#4a4a4a" stroke-width="0.7"/>
<text x="55.6" y="145.9" text-anchor="middle" class="ws">iii</text>
<path d="M65.4 185V178" stroke="#444" stroke-width="0.7"/>
<circle cx="65.4" cy="185" r="5.1" fill="#fff" stroke="#4a4a4a" stroke-width="0.7"/>
<text x="65.4" y="187.7" text-anchor="middle" class="ws">iv</text>
<path d="M68.6 139.4V150" stroke="#444" stroke-width="0.7"/>
<circle cx="68.6" cy="139.4" r="5.1" fill="#fff" stroke="#4a4a4a" stroke-width="0.7"/>
<text x="68.6" y="142.1" text-anchor="middle" class="ws">v</text>
<path d="M84.6 203.1V195" stroke="#444" stroke-width="0.7"/>
<circle cx="84.6" cy="203.1" r="5.1" fill="#fff" stroke="#4a4a4a" stroke-width="0.7"/>
<text x="84.6" y="205.8" text-anchor="middle" class="ws">a</text>
<path d="M110.2 143.5V152" stroke="#444" stroke-width="0.7"/>
<circle cx="110.2" cy="143.5" r="5.1" fill="#fff" stroke="#4a4a4a" stroke-width="0.7"/>
<text x="110.2" y="146.2" text-anchor="middle" class="ws">b</text>
<path d="M129.3 208.6V200" stroke="#444" stroke-width="0.7"/>
<circle cx="129.3" cy="208.6" r="5.1" fill="#fff" stroke="#4a4a4a" stroke-width="0.7"/>
<text x="129.3" y="211.3" text-anchor="middle" class="ws">c</text>
<path d="M335 253.3V262" stroke="#444" stroke-width="0.7"/>
<circle cx="335" cy="253.3" r="5.1" fill="#fff" stroke="#4a4a4a" stroke-width="0.7"/>
<text x="335" y="256.0" text-anchor="middle" class="ws">a</text>
<path d="M363.5 240.8V250" stroke="#444" stroke-width="0.7"/>
<circle cx="363.5" cy="240.8" r="5.1" fill="#fff" stroke="#4a4a4a" stroke-width="0.7"/>
<text x="363.5" y="243.5" text-anchor="middle" class="ws">c</text>
<path d="M344.5 304.4V297" stroke="#444" stroke-width="0.7"/>
<circle cx="344.5" cy="304.4" r="5.1" fill="#fff" stroke="#4a4a4a" stroke-width="0.7"/>
<text x="344.5" y="307.1" text-anchor="middle" class="ws">b</text>
<path d="M633.3 336.3V345" stroke="#444" stroke-width="0.7"/>
<circle cx="633.3" cy="336.3" r="5.1" fill="#fff" stroke="#4a4a4a" stroke-width="0.7"/>
<text x="633.3" y="339.0" text-anchor="middle" class="ws">a</text>
<path d="M646.3 327V337" stroke="#444" stroke-width="0.7"/>
<circle cx="646.3" cy="327" r="5.1" fill="#fff" stroke="#4a4a4a" stroke-width="0.7"/>
<text x="646.3" y="329.7" text-anchor="middle" class="ws">c</text>
<path d="M640 375.5V367" stroke="#444" stroke-width="0.7"/>
<circle cx="640" cy="375.5" r="5.1" fill="#fff" stroke="#4a4a4a" stroke-width="0.7"/>
<text x="640" y="378.2" text-anchor="middle" class="ws">b</text>
<circle cx="405.3" cy="378.8" r="5.8" fill="#fff" stroke="#444" stroke-width="0.65"/>
<text x="405.3" y="382.4" text-anchor="middle" class="wc">1</text>
<circle cx="489.1" cy="182.1" r="5.8" fill="#fff" stroke="#444" stroke-width="0.65"/>
<text x="489.1" y="185.7" text-anchor="middle" class="wc">2</text>
<g shape-rendering="crispEdges">
<rect x="1.5" y="432.4" width="990" height="1.3" fill="#aaa"/>
<rect x="1.5" y="462.4" width="990" height="1.3" fill="#aaa"/>
</g>
<line x1="1.5" y1="448" x2="991" y2="448" stroke="#8a8a8a" stroke-width="1.1" stroke-dasharray="2 1.3"/>
<polyline points="0.0,468.9 5.9,470.5 11.7,469.9 16.6,467.9 21.5,466.0 25.4,462.1 29.3,453.3 33.2,449.4 39.1,447.1 44.9,444.5 50.8,441.2 56.6,435.3 59.6,432.8 63.5,433.8 68.4,434.2 72.3,433.8 75.2,438.6 78.1,442.0 81.0,443.5 84.4,448.4 87.9,449.0 93.8,448.4 99.6,449.0 103.5,447.4 107.4,443.5 111.3,439.6 114.3,443.1 117.2,443.5 120.1,450.4 123.0,455.2 127.0,459.6 129.9,459.2 132.8,455.2 135.7,449.4 138.7,442.0 142.6,440.6 146.5,440.6 152.3,442.6 158.2,444.5 162.1,447.4 166.0,453.3 169.9,458.8 173.8,462.1 177.7,464.6 181.6,467.0 185.6,467.9 188.5,468.3 190.0,467.0 194.9,466.6 199.8,468.5 203.7,464.0 209.5,462.7 215.4,464.0 221.2,466.6 224.2,465.0 227.1,460.1 231.0,457.2 234.9,458.2 238.8,461.1 242.7,464.6 247.6,466.6 252.5,465.4 257.4,465.4 262.3,463.6 267.1,461.1 271.1,457.2 275.0,452.3 278.9,445.5 282.8,439.2 286.7,435.7 290.6,433.8 294.5,435.3 298.4,437.3 302.3,436.1 306.2,436.1 310.1,437.7 313.1,442.6 316.9,446.5 320.5,453.3 323.8,455.2 326.7,453.3 330.6,452.3 335.5,451.3 339.4,454.3 343.3,455.6 347.2,453.3 351.1,449.4 355.0,450.9 358.9,445.5 362.9,442.6 366.8,443.5 369.7,449.4 372.6,455.2 375.6,459.2 378.5,460.7 380.0,459.6 383.9,457.2 387.8,457.6 391.7,456.2 395.6,460.1 399.5,463.1 404.4,466.6 409.3,465.4 413.2,462.7 417.1,459.2 422.0,456.2 426.9,454.3 430.8,451.7 434.7,447.8 438.6,443.5 442.5,439.6 446.4,436.1 450.3,433.8 454.2,434.2 458.1,432.2 462.0,430.8 465.9,430.8 469.8,432.8 472.8,437.3 476.1,443.1 479.6,443.9 483.1,440.0 486.4,436.7 490.4,433.8 494.3,431.4 498.2,431.2 500.0,432.8 503.9,436.7 507.8,439.6 511.7,444.5 515.6,449.4 519.5,452.9 523.4,457.2 528.3,460.7 532.2,460.7 536.1,461.1 540.0,463.4 544.0,465.4 547.9,466.0 551.8,466.6 555.7,465.4 559.6,464.6 563.5,464.6 567.4,461.1 571.3,458.8 575.2,458.8 578.1,461.1 582.0,465.0 585.9,467.9 589.8,469.9 593.8,469.9 597.7,467.9 601.6,463.1 605.5,457.6 609.4,452.9 612.3,449.4 616.2,450.4 620.1,453.3 624.0,454.9 627.9,456.2 630.9,452.9 633.8,450.4 637.7,450.4 640.6,450.9 644.5,449.4 647.5,452.9 650.4,456.2 653.3,459.7" fill="none" stroke="#b23a36" stroke-width="0.8" stroke-linejoin="round"/>
<polyline points="0.0,469.3 3.9,470.5 7.8,470.5 10.7,469.9 13.7,469.3 17.6,466.6 20.5,466.0 23.4,464.6 26.4,459.2 29.7,445.1 33.2,447.4 36.1,445.5 39.1,447.4 42.0,445.9 45.9,444.1 49.8,440.0 53.7,435.3 56.6,432.2 59.2,430.2 62.5,434.7 65.4,433.2 68.4,434.7 71.9,433.2 74.2,437.7 77.2,442.6 80.1,445.1 82.0,447.1 84.6,451.9 87.9,448.4 90.8,448.4 93.8,449.0 97.3,447.1 100.6,450.4 103.5,447.1 107.4,441.6 110.7,436.1 113.3,442.6 115.6,444.5 117.2,444.5 119.5,455.2 122.1,458.2 126.6,464.0 129.9,459.2 132.8,448.4 135.7,444.5 139.3,434.7 142.6,439.6 146.5,440.0 150.4,442.6 154.3,443.5 158.2,444.5 161.1,446.5 164.1,453.3 168.0,459.2 171.9,464.0 175.8,464.4 180.7,469.3 184.6,467.9 187.5,469.3 190.0,467.9 193.9,465.0 197.4,467.4 200.2,469.9 203.7,460.7 206.6,462.5 210.1,462.1 214.4,464.0 217.3,466.0 220.3,468.5 222.8,468.5 225.7,453.7 229.1,455.2 232.0,454.9 235.3,458.2 238.4,463.1 241.8,466.6 245.7,469.3 248.6,467.4 251.1,463.1 254.4,466.0 258.4,465.0 262.3,462.7 265.2,460.1 268.1,458.8 270.5,453.3 274.0,449.8 276.9,443.5 279.8,436.7 282.8,434.2 286.7,433.4 290.2,432.2 293.5,434.7 296.4,437.3 299.4,438.6 302.9,435.7 306.2,436.3 309.5,436.3 312.7,448.4 316.0,448.4 318.9,457.2 322.4,459.7 325.2,453.3 328.7,450.8 331.6,451.9 335.1,450.4 338.4,455.2 341.9,456.8 345.3,455.2 348.2,449.0 351.1,446.5 354.6,453.7 357.6,447.4 360.5,437.3 363.8,439.2 367.1,444.5 369.3,453.3 371.6,461.1 374.0,465.0 377.5,462.7 380.0,459.2 383.3,455.2 386.4,458.8 389.8,455.2 392.7,454.7 396.0,463.1 398.9,464.0 402.5,466.0 405.8,468.5 408.9,465.4 411.8,465.0 415.2,458.2 418.5,455.2 422.0,454.3 425.5,453.3 428.2,453.3 431.2,448.4 434.3,446.5 437.6,442.0 441.1,435.7 444.1,436.1 447.8,431.4 450.7,432.8 453.8,436.1 457.1,432.2 460.5,429.9 464.0,429.5 467.3,431.2 470.2,431.8 473.4,440.0 476.3,449.8 479.6,444.5 482.9,435.7 486.1,432.8 489.0,432.8 492.3,429.9 495.6,429.5 498.8,431.4 500.0,431.8 501.9,436.7 504.9,438.6 507.8,440.6 511.3,447.1 514.6,451.3 518.0,451.7 521.1,456.2 524.4,460.1 527.7,463.1 530.9,463.1 534.2,459.6 537.1,462.1 540.4,464.6 543.5,467.0 546.9,465.4 550.2,467.4 553.3,467.4 556.6,462.7 560.0,464.0 563.1,466.0 566.4,462.1 569.3,457.6 572.7,457.2 575.8,458.2 578.7,465.0 582.0,467.9 585.4,469.3 588.5,470.9 591.8,470.9 595.1,468.5 598.2,466.0 601.6,459.2 604.9,454.3 608.0,450.9 611.3,446.5 614.6,449.8 617.8,453.7 621.1,455.2 624.4,456.2 627.3,457.2 628.9,452.9 630.9,449.4 633.8,449.0 636.7,449.4 640.0,452.3 643.2,446.5 646.5,454.9 649.8,459.2 652.9,464.4" fill="none" stroke="#111" stroke-width="1.05" stroke-linejoin="round"/>
<text x="4" y="435.4" class="sto">STO Slow(14,3)</text>
<rect x="991" y="426" width="1" height="47" fill="#deded6"/>
<text x="996.2" y="445.4" class="yl2">60.00</text>
<clipPath id="c16"><rect x="990" y="458" width="34" height="8.6"/></clipPath><g clip-path="url(#c16)">
<path d="M991.3 463.2L995.6 459.5H1012.6a0.9 0.9 0 0 1 0.9 0.9V466a0.9 0.9 0 0 1 -0.9 0.9H995.6Z" fill="#fff" stroke="#3a3a3a" stroke-width="0.8"/>
<path d="M991.3 464.8L995.6 460.6H1012.6a0.9 0.9 0 0 1 0.9 0.9V470H995.6Z" fill="#fff" stroke="#3a3a3a" stroke-width="0.8"/>
<text x="996.2" y="467.8" class="yl2">16.60</text>
</g>
<path d="M991.3 433.6L995.6 429.9H1012.6a0.9 0.9 0 0 1 0.9 0.9V436.4a0.9 0.9 0 0 1 -0.9 0.9H995.6Z" fill="#fff" stroke="#3a3a3a" stroke-width="0.8"/>
<text x="996.2" y="436.0" class="yl2">80.00</text>
<path d="M991.3 448.5L995.6 444.8H1012.6a0.9 0.9 0 0 1 0.9 0.9V451.3a0.9 0.9 0 0 1 -0.9 0.9H995.6Z" fill="#fff" stroke="#3a3a3a" stroke-width="0.8"/>
<text x="996.2" y="450.9" class="yl2">50.00</text>
<line x1="991.5" y1="428" x2="994" y2="428" stroke="#444" stroke-width="0.8"/>
<line x1="991.5" y1="438" x2="994" y2="438" stroke="#444" stroke-width="0.8"/>
<line x1="991.5" y1="443" x2="994" y2="443" stroke="#444" stroke-width="0.8"/>
<line x1="991.5" y1="453" x2="994" y2="453" stroke="#444" stroke-width="0.8"/>
<line x1="991.5" y1="458" x2="994" y2="458" stroke="#444" stroke-width="0.8"/>
<g shape-rendering="crispEdges">
<rect x="0" y="0" width="1024" height="1" fill="#555"/>
<rect x="0" y="0" width="1.25" height="474" fill="#444" shape-rendering="auto"/>
<rect x="1023" y="0" width="1" height="474" fill="#555"/>
<rect x="2" y="413" width="990" height="1" fill="#cfcfc4"/>
<rect x="991" y="1" width="1" height="413" fill="#deded6"/>
<rect x="1" y="414.9" width="994" height="1.7" fill="#7a7a7a" shape-rendering="auto"/>
<rect x="994" y="0" width="1" height="416" fill="#555"/>
<rect x="0" y="425" width="1024" height="1" fill="#444"/>
<rect x="994" y="425" width="1" height="34.5" fill="#555"/>
<rect x="0" y="473" width="1024" height="1" fill="#555"/>
</g>
<line x1="81.5" y1="412.5" x2="81.5" y2="415.5" stroke="#333" stroke-width="1"/>
<text x="81.5" y="422.6" class="xl" text-anchor="middle">Aug-2022</text>
<line x1="155.5" y1="412.5" x2="155.5" y2="415.5" stroke="#333" stroke-width="1"/>
<text x="156.0" y="422.6" class="xl" text-anchor="middle">Sep-2022</text>
<line x1="226.5" y1="412.5" x2="226.5" y2="415.5" stroke="#333" stroke-width="1"/>
<text x="225.4" y="422.6" class="xl" text-anchor="middle">Oct-2022</text>
<line x1="293.5" y1="412.5" x2="293.5" y2="415.5" stroke="#333" stroke-width="1"/>
<text x="293.3" y="422.6" class="xl" text-anchor="middle">Nov-2022</text>
<line x1="364.5" y1="412.5" x2="364.5" y2="415.5" stroke="#333" stroke-width="1"/>
<text x="364.5" y="422.6" class="xl" text-anchor="middle">Dec-2022</text>
<line x1="434.5" y1="412.5" x2="434.5" y2="415.5" stroke="#333" stroke-width="1"/>
<text x="434.3" y="422.6" class="xl" text-anchor="middle">Jan-2023</text>
<line x1="505.5" y1="412.5" x2="505.5" y2="415.5" stroke="#333" stroke-width="1"/>
<text x="505.5" y="422.6" class="xl" text-anchor="middle">Feb-2023</text>
<line x1="569.5" y1="412.5" x2="569.5" y2="415.5" stroke="#333" stroke-width="1"/>
<text x="569.5" y="422.6" class="xl" text-anchor="middle">Mar-2023</text>
<line x1="643.5" y1="412.5" x2="643.5" y2="415.5" stroke="#333" stroke-width="1"/>
<text x="642.4" y="422.6" class="xl" text-anchor="middle">Apr-2023</text>
<line x1="675.5" y1="412.5" x2="675.5" y2="415.5" stroke="#333" stroke-width="1"/>
<text x="674.7" y="422.6" class="xl" text-anchor="middle">Apr-13</text>
<line x1="733.5" y1="412.5" x2="733.5" y2="415.5" stroke="#333" stroke-width="1"/>
<text x="733.5" y="422.6" class="xl" text-anchor="middle">May-2023</text>
<line x1="765.5" y1="412.5" x2="765.5" y2="415.5" stroke="#333" stroke-width="1"/>
<text x="765.2" y="422.6" class="xl" text-anchor="middle">May-11</text>
<line x1="832.5" y1="412.5" x2="832.5" y2="415.5" stroke="#333" stroke-width="1"/>
<text x="832.2" y="422.6" class="xl" text-anchor="middle">Jun-2023</text>
<line x1="864.5" y1="412.5" x2="864.5" y2="415.5" stroke="#333" stroke-width="1"/>
<text x="864.1" y="422.6" class="xl" text-anchor="middle">Jun-11</text>
<line x1="929.5" y1="412.5" x2="929.5" y2="415.5" stroke="#333" stroke-width="1"/>
<text x="928.0" y="422.6" class="xl" text-anchor="middle">Jul-2023</text>
<line x1="961.5" y1="412.5" x2="961.5" y2="415.5" stroke="#333" stroke-width="1"/>
<text x="959.9" y="422.6" class="xl" text-anchor="middle">Jul-11</text>
<line x1="992" y1="411.66" x2="994" y2="411.66" stroke="#666" stroke-width="0.9"/>
<line x1="992" y1="408.08" x2="994" y2="408.08" stroke="#666" stroke-width="0.9"/>
<line x1="991" y1="404.50" x2="994" y2="404.50" stroke="#444" stroke-width="0.9"/>
<text x="996.1" y="406.90" class="yl">0.60000</text>
<line x1="992" y1="400.92" x2="994" y2="400.92" stroke="#666" stroke-width="0.9"/>
<line x1="992" y1="397.34" x2="994" y2="397.34" stroke="#666" stroke-width="0.9"/>
<line x1="992" y1="393.76" x2="994" y2="393.76" stroke="#666" stroke-width="0.9"/>
<line x1="992" y1="390.18" x2="994" y2="390.18" stroke="#666" stroke-width="0.9"/>
<line x1="992" y1="386.60" x2="994" y2="386.60" stroke="#666" stroke-width="0.9"/>
<line x1="992" y1="383.02" x2="994" y2="383.02" stroke="#666" stroke-width="0.9"/>
<line x1="992" y1="379.44" x2="994" y2="379.44" stroke="#666" stroke-width="0.9"/>
<line x1="992" y1="375.86" x2="994" y2="375.86" stroke="#666" stroke-width="0.9"/>
<line x1="992" y1="372.28" x2="994" y2="372.28" stroke="#666" stroke-width="0.9"/>
<line x1="991" y1="368.70" x2="994" y2="368.70" stroke="#444" stroke-width="0.9"/>
<text x="996.1" y="371.10" class="yl">0.61000</text>
<line x1="992" y1="365.12" x2="994" y2="365.12" stroke="#666" stroke-width="0.9"/>
<line x1="992" y1="361.54" x2="994" y2="361.54" stroke="#666" stroke-width="0.9"/>
<line x1="992" y1="357.96" x2="994" y2="357.96" stroke="#666" stroke-width="0.9"/>
<line x1="992" y1="354.38" x2="994" y2="354.38" stroke="#666" stroke-width="0.9"/>
<line x1="992" y1="350.80" x2="994" y2="350.80" stroke="#666" stroke-width="0.9"/>
<line x1="992" y1="347.22" x2="994" y2="347.22" stroke="#666" stroke-width="0.9"/>
<line x1="992" y1="343.64" x2="994" y2="343.64" stroke="#666" stroke-width="0.9"/>
<line x1="992" y1="340.06" x2="994" y2="340.06" stroke="#666" stroke-width="0.9"/>
<line x1="992" y1="336.48" x2="994" y2="336.48" stroke="#666" stroke-width="0.9"/>
<line x1="991" y1="332.90" x2="994" y2="332.90" stroke="#444" stroke-width="0.9"/>
<text x="996.1" y="335.30" class="yl">0.62000</text>
<line x1="992" y1="329.32" x2="994" y2="329.32" stroke="#666" stroke-width="0.9"/>
<line x1="992" y1="325.74" x2="994" y2="325.74" stroke="#666" stroke-width="0.9"/>
<line x1="992" y1="322.16" x2="994" y2="322.16" stroke="#666" stroke-width="0.9"/>
<line x1="992" y1="318.58" x2="994" y2="318.58" stroke="#666" stroke-width="0.9"/>
<line x1="992" y1="315.00" x2="994" y2="315.00" stroke="#666" stroke-width="0.9"/>
<line x1="992" y1="311.42" x2="994" y2="311.42" stroke="#666" stroke-width="0.9"/>
<line x1="992" y1="307.84" x2="994" y2="307.84" stroke="#666" stroke-width="0.9"/>
<line x1="992" y1="304.26" x2="994" y2="304.26" stroke="#666" stroke-width="0.9"/>
<line x1="992" y1="300.68" x2="994" y2="300.68" stroke="#666" stroke-width="0.9"/>
<line x1="991" y1="297.10" x2="994" y2="297.10" stroke="#444" stroke-width="0.9"/>
<text x="996.1" y="299.50" class="yl">0.63000</text>
<line x1="992" y1="293.52" x2="994" y2="293.52" stroke="#666" stroke-width="0.9"/>
<line x1="992" y1="289.94" x2="994" y2="289.94" stroke="#666" stroke-width="0.9"/>
<line x1="992" y1="286.36" x2="994" y2="286.36" stroke="#666" stroke-width="0.9"/>
<line x1="992" y1="282.78" x2="994" y2="282.78" stroke="#666" stroke-width="0.9"/>
<line x1="992" y1="279.20" x2="994" y2="279.20" stroke="#666" stroke-width="0.9"/>
<line x1="992" y1="275.62" x2="994" y2="275.62" stroke="#666" stroke-width="0.9"/>
<line x1="992" y1="272.04" x2="994" y2="272.04" stroke="#666" stroke-width="0.9"/>
<line x1="992" y1="268.46" x2="994" y2="268.46" stroke="#666" stroke-width="0.9"/>
<line x1="992" y1="264.88" x2="994" y2="264.88" stroke="#666" stroke-width="0.9"/>
<line x1="991" y1="261.30" x2="994" y2="261.30" stroke="#444" stroke-width="0.9"/>
<text x="996.1" y="263.70" class="yl">0.64000</text>
<line x1="992" y1="257.72" x2="994" y2="257.72" stroke="#666" stroke-width="0.9"/>
<line x1="992" y1="254.14" x2="994" y2="254.14" stroke="#666" stroke-width="0.9"/>
<line x1="992" y1="250.56" x2="994" y2="250.56" stroke="#666" stroke-width="0.9"/>
<line x1="992" y1="246.98" x2="994" y2="246.98" stroke="#666" stroke-width="0.9"/>
<line x1="992" y1="243.40" x2="994" y2="243.40" stroke="#666" stroke-width="0.9"/>
<line x1="992" y1="239.82" x2="994" y2="239.82" stroke="#666" stroke-width="0.9"/>
<line x1="992" y1="236.24" x2="994" y2="236.24" stroke="#666" stroke-width="0.9"/>
<line x1="992" y1="232.66" x2="994" y2="232.66" stroke="#666" stroke-width="0.9"/>
<line x1="992" y1="229.08" x2="994" y2="229.08" stroke="#666" stroke-width="0.9"/>
<line x1="991" y1="225.50" x2="994" y2="225.50" stroke="#444" stroke-width="0.9"/>
<text x="996.1" y="227.90" class="yl">0.65000</text>
<line x1="992" y1="221.92" x2="994" y2="221.92" stroke="#666" stroke-width="0.9"/>
<line x1="992" y1="218.34" x2="994" y2="218.34" stroke="#666" stroke-width="0.9"/>
<line x1="992" y1="214.76" x2="994" y2="214.76" stroke="#666" stroke-width="0.9"/>
<line x1="992" y1="211.18" x2="994" y2="211.18" stroke="#666" stroke-width="0.9"/>
<line x1="992" y1="207.60" x2="994" y2="207.60" stroke="#666" stroke-width="0.9"/>
<line x1="992" y1="204.02" x2="994" y2="204.02" stroke="#666" stroke-width="0.9"/>
<line x1="992" y1="200.44" x2="994" y2="200.44" stroke="#666" stroke-width="0.9"/>
<line x1="992" y1="196.86" x2="994" y2="196.86" stroke="#666" stroke-width="0.9"/>
<line x1="992" y1="193.28" x2="994" y2="193.28" stroke="#666" stroke-width="0.9"/>
<line x1="991" y1="189.70" x2="994" y2="189.70" stroke="#444" stroke-width="0.9"/>
<text x="996.1" y="192.10" class="yl">0.66000</text>
<line x1="992" y1="186.12" x2="994" y2="186.12" stroke="#666" stroke-width="0.9"/>
<line x1="992" y1="182.54" x2="994" y2="182.54" stroke="#666" stroke-width="0.9"/>
<line x1="992" y1="178.96" x2="994" y2="178.96" stroke="#666" stroke-width="0.9"/>
<line x1="992" y1="175.38" x2="994" y2="175.38" stroke="#666" stroke-width="0.9"/>
<line x1="992" y1="171.80" x2="994" y2="171.80" stroke="#666" stroke-width="0.9"/>
<line x1="992" y1="168.22" x2="994" y2="168.22" stroke="#666" stroke-width="0.9"/>
<line x1="992" y1="164.64" x2="994" y2="164.64" stroke="#666" stroke-width="0.9"/>
<line x1="992" y1="161.06" x2="994" y2="161.06" stroke="#666" stroke-width="0.9"/>
<line x1="992" y1="157.48" x2="994" y2="157.48" stroke="#666" stroke-width="0.9"/>
<line x1="991" y1="153.90" x2="994" y2="153.90" stroke="#444" stroke-width="0.9"/>
<text x="996.1" y="156.30" class="yl">0.67000</text>
<line x1="992" y1="150.32" x2="994" y2="150.32" stroke="#666" stroke-width="0.9"/>
<line x1="992" y1="146.74" x2="994" y2="146.74" stroke="#666" stroke-width="0.9"/>
<line x1="992" y1="143.16" x2="994" y2="143.16" stroke="#666" stroke-width="0.9"/>
<line x1="992" y1="139.58" x2="994" y2="139.58" stroke="#666" stroke-width="0.9"/>
<line x1="992" y1="136.00" x2="994" y2="136.00" stroke="#666" stroke-width="0.9"/>
<line x1="992" y1="132.42" x2="994" y2="132.42" stroke="#666" stroke-width="0.9"/>
<line x1="992" y1="128.84" x2="994" y2="128.84" stroke="#666" stroke-width="0.9"/>
<line x1="992" y1="125.26" x2="994" y2="125.26" stroke="#666" stroke-width="0.9"/>
<line x1="992" y1="121.68" x2="994" y2="121.68" stroke="#666" stroke-width="0.9"/>
<line x1="991" y1="118.10" x2="994" y2="118.10" stroke="#444" stroke-width="0.9"/>
<text x="996.1" y="120.50" class="yl">0.68000</text>
<line x1="992" y1="114.52" x2="994" y2="114.52" stroke="#666" stroke-width="0.9"/>
<line x1="992" y1="110.94" x2="994" y2="110.94" stroke="#666" stroke-width="0.9"/>
<line x1="992" y1="107.36" x2="994" y2="107.36" stroke="#666" stroke-width="0.9"/>
<line x1="992" y1="103.78" x2="994" y2="103.78" stroke="#666" stroke-width="0.9"/>
<line x1="992" y1="100.20" x2="994" y2="100.20" stroke="#666" stroke-width="0.9"/>
<line x1="992" y1="96.62" x2="994" y2="96.62" stroke="#666" stroke-width="0.9"/>
<line x1="992" y1="93.04" x2="994" y2="93.04" stroke="#666" stroke-width="0.9"/>
<line x1="992" y1="89.46" x2="994" y2="89.46" stroke="#666" stroke-width="0.9"/>
<line x1="992" y1="85.88" x2="994" y2="85.88" stroke="#666" stroke-width="0.9"/>
<line x1="991" y1="82.30" x2="994" y2="82.30" stroke="#444" stroke-width="0.9"/>
<text x="996.1" y="84.70" class="yl">0.69000</text>
<line x1="992" y1="78.72" x2="994" y2="78.72" stroke="#666" stroke-width="0.9"/>
<line x1="992" y1="75.14" x2="994" y2="75.14" stroke="#666" stroke-width="0.9"/>
<line x1="992" y1="71.56" x2="994" y2="71.56" stroke="#666" stroke-width="0.9"/>
<line x1="992" y1="67.98" x2="994" y2="67.98" stroke="#666" stroke-width="0.9"/>
<line x1="992" y1="64.40" x2="994" y2="64.40" stroke="#666" stroke-width="0.9"/>
<line x1="992" y1="60.82" x2="994" y2="60.82" stroke="#666" stroke-width="0.9"/>
<line x1="992" y1="57.24" x2="994" y2="57.24" stroke="#666" stroke-width="0.9"/>
<line x1="992" y1="53.66" x2="994" y2="53.66" stroke="#666" stroke-width="0.9"/>
<line x1="992" y1="50.08" x2="994" y2="50.08" stroke="#666" stroke-width="0.9"/>
<line x1="991" y1="46.50" x2="994" y2="46.50" stroke="#444" stroke-width="0.9"/>
<text x="996.1" y="48.90" class="yl">0.70000</text>
<line x1="992" y1="42.92" x2="994" y2="42.92" stroke="#666" stroke-width="0.9"/>
<line x1="992" y1="39.34" x2="994" y2="39.34" stroke="#666" stroke-width="0.9"/>
<line x1="992" y1="35.76" x2="994" y2="35.76" stroke="#666" stroke-width="0.9"/>
<line x1="992" y1="32.18" x2="994" y2="32.18" stroke="#666" stroke-width="0.9"/>
<line x1="992" y1="28.60" x2="994" y2="28.60" stroke="#666" stroke-width="0.9"/>
<line x1="992" y1="25.02" x2="994" y2="25.02" stroke="#666" stroke-width="0.9"/>
<line x1="992" y1="21.44" x2="994" y2="21.44" stroke="#666" stroke-width="0.9"/>
<line x1="992" y1="17.86" x2="994" y2="17.86" stroke="#666" stroke-width="0.9"/>
<line x1="992" y1="14.28" x2="994" y2="14.28" stroke="#666" stroke-width="0.9"/>
<line x1="991" y1="10.70" x2="994" y2="10.70" stroke="#444" stroke-width="0.9"/>
<text x="996.1" y="13.10" class="yl">0.71000</text>
<line x1="992" y1="7.12" x2="994" y2="7.12" stroke="#666" stroke-width="0.9"/>
<line x1="992" y1="3.54" x2="994" y2="3.54" stroke="#666" stroke-width="0.9"/>
<path d="M991.3 388.0L995.6 384.7H1020.4a0.9 0.9 0 0 1 0.9 0.9V390.5a0.9 0.9 0 0 1 -0.9 0.9H995.6Z" fill="#fff" stroke="#3a3a3a" stroke-width="0.8"/>
<text x="996.1" y="390.18" class="yl">0.60467</text>
<rect x="927" y="0" width="64.4" height="64.8" fill="#f0262c"/>
<text x="959.7" y="34.6" text-anchor="middle" class="logo">FxPro</text>
<text x="959.5" y="42.9" text-anchor="middle" class="tag">Trade Like a Pro</text>
<rect x="3" y="12" width="80" height="7.8" fill="#fff"/>
<text x="4" y="9.0" class="title">AUDCHF - 1 day</text>
<text x="37" y="18.3" class="bb">BB(20,20,2.0,2.0)</text>
</svg>
</body></html>
